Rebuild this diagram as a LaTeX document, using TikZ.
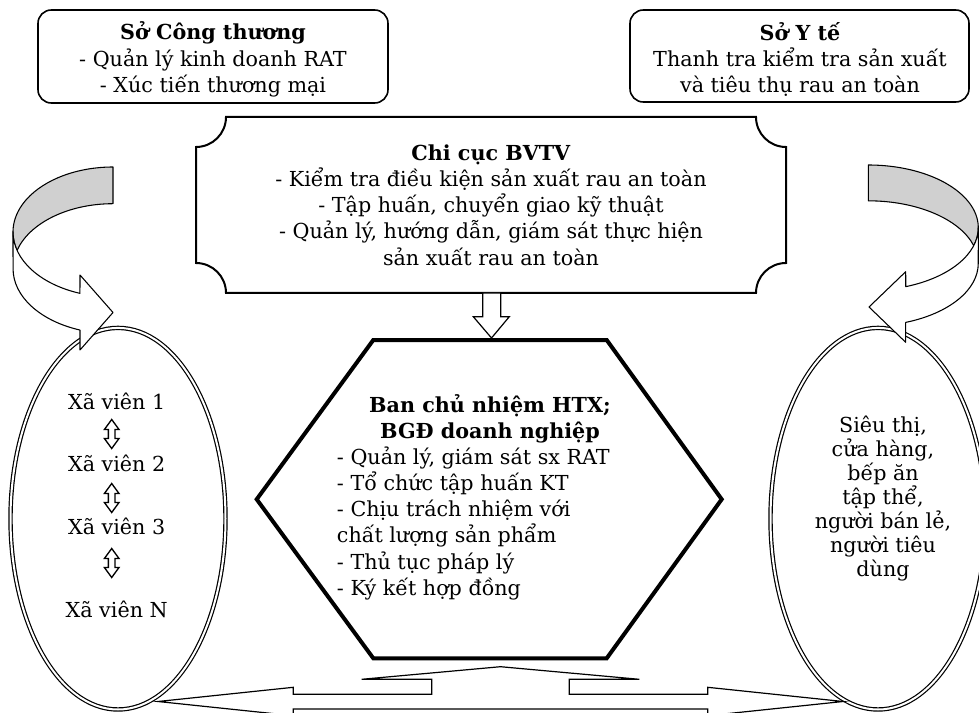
\documentclass[tikz,border=0pt]{standalone}
\usepackage{fontspec}
\setmainfont{DejaVu Serif}
\definecolor{bandgray}{RGB}{208,208,208}
\begin{document}
\begin{tikzpicture}[x=0.75pt,y=-0.75pt,
  txt/.style={font=\fontsize{15.5}{19.7}\selectfont, align=center, inner sep=0pt},
  lefttxt/.style={font=\fontsize{15.5}{19.7}\selectfont, align=left, inner sep=0pt},
  sobox/.style={draw, line width=1.2pt, rounded corners=10pt, inner sep=0pt},
  blockarrow/.style={draw, line width=0.9pt, fill=white, line join=miter},
  updown/.style={draw, line width=1pt, fill=white, line join=miter},
  curv/.style={draw, line width=0.8pt, line join=round},
  dblell/.style={draw, line width=0.9pt, double=white, double distance=1.5pt},
  hexa/.style={draw, line width=3pt, line join=miter, fill=white},
  plaque/.style={draw, line width=1.5pt, fill=white}
]
\useasboundingbox (0,0) rectangle (979,713);

% top boxes
\node[sobox, minimum width=262.5pt, minimum height=69.75pt] (cong) at (213,56.5) {};
\node[txt] (congtxt) at (213,59.5) {\textbf{Sở Công thương}\\- Quản lý kinh doanh RAT\\- Xúc tiến thương mại};
\node[sobox, minimum width=254.25pt, minimum height=69pt] (yte) at (799.5,56) {};
\node[txt] (ytetxt) at (800,59.5) {\textbf{Sở Y tế}\\Thanh tra kiểm tra sản xuất\\và tiêu thụ rau an toàn};

% Chi cuc plaque
\draw[plaque] (226,117) -- (756,117) arc[start angle=180,end angle=90,radius=30]
  -- (786,263) arc[start angle=270,end angle=180,radius=30]
  -- (226,293) arc[start angle=360,end angle=270,radius=30]
  -- (196,147) arc[start angle=90,end angle=0,radius=30] -- cycle;
\node[txt] (chicuc) at (491,205) {\textbf{Chi cục BVTV}\\- Kiểm tra điều kiện sản xuất rau an toàn\\- Tập huấn, chuyển giao kỹ thuật\\- Quản lý, hướng dẫn, giám sát thực hiện\\sản xuất rau an toàn};

% hexagon
\draw[hexa] (373.3,340) -- (606.7,340) -- (721.7,499.3) -- (606.7,658.3) -- (373.3,658.3) -- (256.7,499.3) -- cycle;
\node[txt] (bcn) at (490,419.2) {\textbf{Ban chủ nhiệm HTX;}\\\textbf{BGĐ doanh nghiệp}};
\node[lefttxt, anchor=west] (bcnbody) at (336.7,523.3) {- Quản lý, giám sát sx RAT\\- Tổ chức tập huấn KT\\- Chịu trách nhiệm với\\chất lượng sản phẩm\\- Thủ tục pháp lý\\- Ký kết hợp đồng};

% down arrow
\draw[blockarrow] (482.7,293) -- (500.7,293) -- (500.7,316.7) -- (509.3,316.7) -- (491.5,338) -- (473.3,316.7) -- (482.7,316.7) -- cycle;

% ellipses
\draw[dblell] (118,518.7) ellipse[x radius=107.5, y radius=190.8];
\draw[dblell] (878,518.7) ellipse[x radius=107.5, y radius=190.8];

\node[txt] (xv1) at (116.7,401.7) {Xã viên 1};
\node[txt] (xv2) at (116.7,463) {Xã viên 2};
\node[txt] (xv3) at (116.7,526) {Xã viên 3};
\node[txt] (xvn) at (116.7,609) {Xã viên N};
\foreach \yy in {434,498,563}{
  \draw[updown, shift={(111.7,\yy)}] (0,-14.5) -- (7.3,-4.5) -- (3.3,-4.5) -- (3.3,4.5) -- (7.3,4.5) -- (0,14.5) -- (-7.3,4.5) -- (-3.3,4.5) -- (-3.3,-4.5) -- (-7.3,-4.5) -- cycle;
}

\node[txt, font=\fontsize{15.5}{18}\selectfont] (market) at (883,499) {Siêu thị,\\cửa hàng,\\bếp ăn\\tập thể,\\người bán lẻ,\\người tiêu\\dùng};

% left curved arrow
\draw[curv, fill=bandgray] (113,167) arc[start angle=270, end angle=163.6, x radius=100, y radius=65]
  arc[start angle=196.4, end angle=270, x radius=100, y radius=65] -- cycle;
\draw[curv, fill=white] (13,232) arc[start angle=180, end angle=109.3, x radius=100, y radius=65]
  -- (80,275) -- (113,312.5) -- (80,350) -- (80,330.05)
  arc[start angle=109.3, end angle=180, x radius=100, y radius=65] -- cycle;

% right curved arrow
\draw[curv, fill=bandgray] (868.3,165) arc[start angle=270, end angle=376.6, x radius=110, y radius=62.7]
  arc[start angle=343.4, end angle=270, x radius=110, y radius=62.7] -- cycle;
\draw[curv, fill=white] (978.3,227.7) arc[start angle=0, end angle=70.1, x radius=110, y radius=62.7]
  -- (905.7,271.7) -- (869,307) -- (905.7,342.3) -- (905.7,322.4)
  arc[start angle=70.1, end angle=0, x radius=110, y radius=62.7] -- cycle;

% bottom three-way arrow
\draw[blockarrow] (500.5,666.7) -- (639.3,679.3) -- (569.3,679.3) -- (569.3,694.3) -- (707.7,694.3) -- (707.7,687.3) -- (843,701.5) -- (707.7,715.7) -- (707.7,709) -- (293.3,709) -- (293.3,715.7) -- (158,701.5) -- (293.3,687.3) -- (293.3,694.3) -- (431.7,694.3) -- (431.7,679.3) -- (361.7,679.3) -- cycle;
\end{tikzpicture}
\end{document}
